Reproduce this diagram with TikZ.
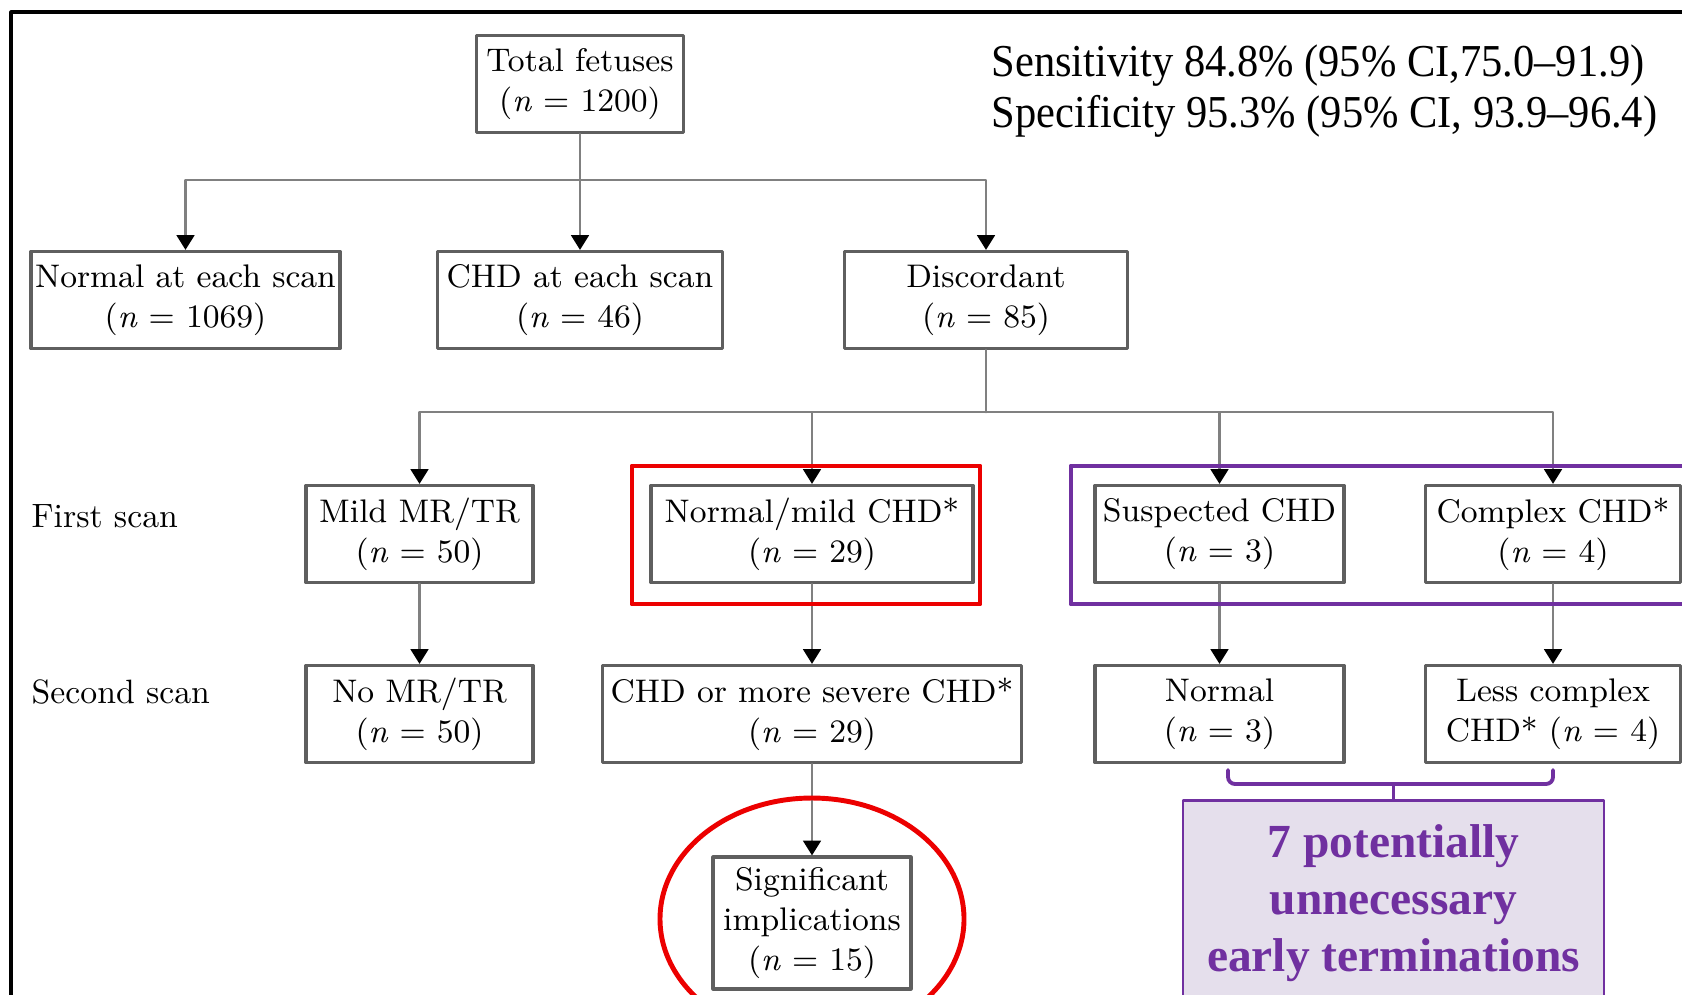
\documentclass[tikz,border=0pt]{standalone}
\usepackage{fontspec}
\newfontfamily\timesfont[Ligatures=TeX]{Liberation Serif}
\usetikzlibrary{arrows.meta}
\usetikzlibrary{positioning}
\definecolor{BoxGray}{RGB}{95,95,95}
\definecolor{LineGray}{RGB}{128,128,128}
\definecolor{MarkRed}{RGB}{236,0,0}
\definecolor{MarkPurple}{RGB}{112,48,160}
\definecolor{PaleLilac}{RGB}{229,223,236}

\begin{document}
\begin{tikzpicture}[line cap=round,line join=round,x=0.1mm,y=-0.1mm,
  box/.style={draw=BoxGray,line width=0.9pt,fill=white,align=center,inner sep=0pt,
    minimum height=9.7mm,font=\fontsize{9.3}{11.4}\selectfont},
  conn/.style={draw=LineGray,line width=0.8pt,-{Triangle[width=5pt,length=4.2pt,color=black]}},
  link/.style={draw=LineGray,line width=0.8pt},
  scanlbl/.style={anchor=west,inner sep=0pt,font=\fontsize{9.6}{11}\selectfont},
  hilite/.style={line width=1.4pt}]
\useasboundingbox (0,0) rectangle (1682,994);
\clip (0,0) rectangle (1682,994);
\draw [line width=0.9pt,color=black] (11,12) rectangle (1760,1100);

% top rows
\node[box,minimum width=20.7mm] (total) at (580,84) {Total fetuses\\(\textit{n} = 1200)};
\node[anchor=west,align=left,inner sep=0pt,font=\timesfont\fontsize{13}{14.6}\selectfont] (stats) at (991,91)
  {\scalebox{.93}[1]{Sensitivity 84.8\% (95\% CI,75.0--91.9)}\\\scalebox{.93}[1]{Specificity 95.3\% (95\% CI, 93.9--96.4)}};
\node[box,minimum width=30.9mm] (normal) at (185.5,300) {Normal at each scan\\(\textit{n} = 1069)};
\node[box,minimum width=28.5mm] (chd) at (580,300) {CHD at each scan\\(\textit{n} = 46)};
\node[box,minimum width=28.3mm] (disc) at (986,300) {Discordant\\(\textit{n} = 85)};

% first scan
\node[scanlbl] (first) at (31,516) {First scan};
\node[box,minimum width=22.7mm] (mild) at (419.5,534) {Mild MR/TR\\(\textit{n} = 50)};
\node[box,minimum width=32.2mm] (nmild) at (812,534) {Normal/mild CHD*\\(\textit{n} = 29)};
\node[box,minimum width=24.9mm] (susp) at (1219.5,534) {Suspected CHD\\(\textit{n} = 3)};
\node[box,minimum width=25.5mm] (cplx) at (1553,534) {Complex CHD*\\(\textit{n} = 4)};

% second scan
\node[scanlbl] (second) at (31,692) {Second scan};
\node[box,minimum width=22.7mm] (nomr) at (419.5,714) {No MR/TR\\(\textit{n} = 50)};
\node[box,minimum width=41.9mm] (severe) at (812,714) {CHD or more severe CHD*\\(\textit{n} = 29)};
\node[box,minimum width=24.9mm] (normtwo) at (1219.5,714) {Normal\\(\textit{n} = 3)};
\node[box,minimum width=25.5mm] (less) at (1553,714) {Less complex\\CHD* (\textit{n} = 4)};
\node[box,minimum width=19.8mm,minimum height=13.2mm] (signif) at (812,923) {Significant\\implications\\(\textit{n} = 15)};

% connectors
\coordinate (busA) at (580,180);
\coordinate (busB) at (986,412);
\draw[conn] (total) -- (chd);
\draw[conn] (busA) -| (normal);
\draw[conn] (busA) -| (disc);
\draw[link] (disc) -- (busB);
\draw[conn] (busB) -| (mild);
\draw[conn] (busB) -| (nmild);
\draw[conn] (busB) -| (susp);
\draw[conn] (busB) -| (cplx);
\draw[conn] (mild) -- (nomr);
\draw[conn] (nmild) -- (severe);
\draw[conn] (severe) -- (signif);
\draw[conn] (susp) -- (normtwo);
\draw[conn] (cplx) -- (less);

% highlights
\draw [hilite,color=MarkRed] (632,466) rectangle (980,604);
\draw [hilite,color=MarkRed] (812,919) ellipse (15.2mm and 12.1mm);
\draw [hilite,color=MarkPurple] (1071,466) rectangle (1760,604);
\node[draw=MarkPurple,line width=0.8pt,fill=PaleLilac,anchor=north,minimum width=42.1mm,
  inner xsep=0pt,inner ysep=2.4mm,align=center,text=MarkPurple,
  font=\timesfont\bfseries\fontsize{13.5}{16.2}\selectfont] (note) at (1393.5,799)
  {7 potentially\\unnecessary\\early terminations\\[2mm]};
\coordinate (braceL) at (1228,770);
\coordinate (braceR) at (1553,770);
\draw [line width=1.1pt,color=MarkPurple,rounded corners=2pt] (braceL) |- (1393.5,784) -| (braceR);
\draw [line width=1.1pt,color=MarkPurple] (1393.5,784) -- (note.north);
\end{tikzpicture}
\end{document}
